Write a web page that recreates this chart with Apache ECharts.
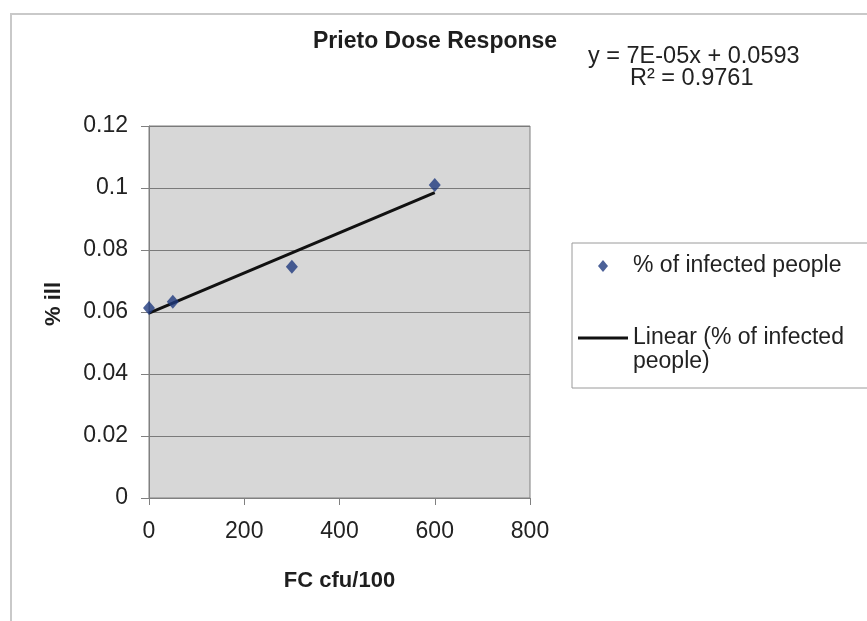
<!DOCTYPE html>
<html>
<head>
<meta charset="utf-8">
<script src="https://cdn.jsdelivr.net/npm/echarts@6/dist/echarts.min.js"></script>
<style>
html,body{margin:0;padding:0;background:#ffffff;}
#chart{width:867px;height:621px;}
</style>
</head>
<body>
<div id="chart"></div>
<script>
// Data
const doseX = [0, 50, 300, 600];
const illY = [0.0613, 0.0633, 0.0746, 0.1010];
const trendX = [0, 600];
const trendY = [0.0596, 0.0985];
const yTicks = [0, 0.02, 0.04, 0.06, 0.08, 0.1, 0.12];
const xTicks = [0, 200, 400, 600, 800];
const titleText = 'Prieto Dose Response';
const equationText = 'y = 7E-05x + 0.0593';
const r2Text = 'R\u00B2 = 0.9761';
const scatterName = '% of infected people';
const trendName = 'Linear (% of infected people)';

const FONT = '"Liberation Sans", Arial, sans-serif';
const chart = echarts.init(document.getElementById('chart'), null, {renderer: 'canvas'});

const option = {
  backgroundColor: '#ffffff',
  animation: false,
  textStyle: {fontFamily: FONT, color: '#222'},
  title: {
    text: titleText,
    left: 313, top: 30, padding: 0,
    textStyle: {fontFamily: FONT, fontSize: 23, fontWeight: 'bold', color: '#1e1e1e'}
  },
  graphic: [
    {type: 'rect', silent: true, z: -1,
     shape: {x: 11, y: 14, width: 950, height: 700},
     style: {fill: 'none', stroke: '#c9c9c9', lineWidth: 2}},
    {type: 'text', left: 588, top: 45,
     style: {text: equationText, font: '23.5px ' + FONT, fill: '#222'}},
    {type: 'text', left: 630, top: 67,
     style: {text: r2Text, font: '23.5px ' + FONT, fill: '#222'}}
  ],
  legend: {
    orient: 'vertical',
    left: 572, top: 243,
    padding: [11, 40, 14, 6],
    itemGap: 24,
    itemWidth: 50, itemHeight: 12,
    symbolKeepAspect: true,
    borderColor: '#9a9a9a', borderWidth: 1,
    backgroundColor: '#ffffff',
    textStyle: {fontFamily: FONT, fontSize: 23, color: '#222', lineHeight: 24},
    formatter: function (name) {
      if (name === trendName) return '\nLinear (% of infected\npeople)';
      return name;
    },
    data: [
      {name: scatterName, icon: 'path://M5,0 L10,6 L5,12 L0,6 Z', itemStyle: {color: '#1f3a7e'}},
      {name: trendName, icon: 'path://M0,0 L50,0 L50,3 L0,3 Z', itemStyle: {color: '#111111'}}
    ]
  },
  grid: {left: 149, top: 126, width: 381, height: 372, show: true,
         backgroundColor: '#d7d7d7', borderColor: '#7f7f7f', borderWidth: 1},
  xAxis: {
    type: 'value', min: xTicks[0], max: xTicks[xTicks.length - 1], interval: 200,
    name: 'FC cfu/100', nameLocation: 'middle', nameGap: 72,
    nameTextStyle: {fontFamily: FONT, fontSize: 22, fontWeight: 'bold', color: '#1e1e1e'},
    axisLine: {show: true, lineStyle: {color: '#808080', width: 1}},
    axisTick: {show: true, inside: false, length: 7, lineStyle: {color: '#808080'}},
    axisLabel: {margin: 22, fontFamily: FONT, fontSize: 23, color: '#222'},
    splitLine: {show: false}
  },
  yAxis: {
    type: 'value', min: yTicks[0], max: yTicks[yTicks.length - 1], interval: 0.02,
    name: '% ill', nameLocation: 'middle', nameGap: 84, nameRotate: 90,
    nameTextStyle: {fontFamily: FONT, fontSize: 22, fontWeight: 'bold', color: '#1e1e1e', padding: [0, 0, 0, 16]},
    axisLine: {show: true, lineStyle: {color: '#808080', width: 1}},
    axisTick: {show: true, inside: false, length: 8, lineStyle: {color: '#808080'}},
    axisLabel: {margin: 21, fontFamily: FONT, fontSize: 23, color: '#222',
      formatter: function (v) { return String(+v.toFixed(2)); }},
    splitLine: {show: true, lineStyle: {color: '#7a7a7a', width: 1.2}}
  },
  series: [
    {
      name: scatterName, type: 'scatter',
      symbol: 'diamond', symbolSize: [12, 14],
      itemStyle: {color: '#1f3a7e'},
      data: doseX.map((x, i) => [x, illY[i]]),
      z: 3
    },
    {
      name: trendName, type: 'line',
      symbol: 'none', showSymbol: false,
      lineStyle: {color: '#111111', width: 3},
      itemStyle: {color: '#111111'},
      data: trendX.map((x, i) => [x, trendY[i]]),
      z: 2
    }
  ]
};
chart.setOption(option);
</script>
</body>
</html>
